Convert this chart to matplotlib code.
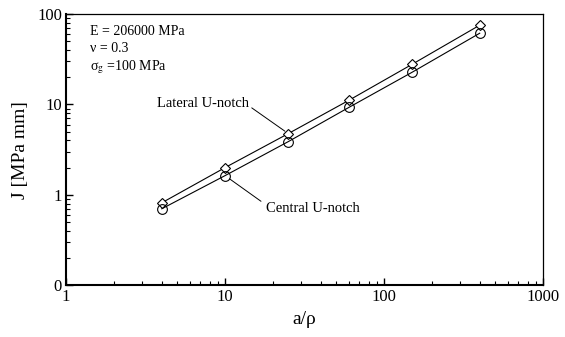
import matplotlib
matplotlib.use('Agg')
import matplotlib.pyplot as plt
from matplotlib.ticker import FixedLocator, FixedFormatter, LogLocator, NullFormatter

plt.rcParams['font.family'] = ['Liberation Serif', 'DejaVu Serif']
plt.rcParams['mathtext.fontset'] = 'stix'

# notch depth ratio and J-integral values
a_rho = [4, 10, 25, 60, 150, 400]
j_lateral = [0.815, 2.0, 4.76, 11.1, 27.8, 75.5]
j_central = [0.70, 1.63, 3.88, 9.26, 22.7, 61.5]

y_ticks = [0.1, 1, 10, 100]
y_labels = ['0', '1', '10', '100']
x_ticks = [1, 10, 100, 1000]
x_labels = ['1', '10', '100', '1000']

fig = plt.figure(figsize=(5.65, 3.37), dpi=100)
ax = fig.add_axes([0.117, 0.154, 0.844, 0.804])

ax.plot(a_rho, j_lateral, color='black', lw=0.8, marker='D', ms=5,
        mfc='white', mec='black', mew=0.8)
ax.plot(a_rho, j_central, color='black', lw=0.8, marker='o', ms=7,
        mfc='none', mec='black', mew=0.8)

ax.set_xscale('log')
ax.set_yscale('log')
ax.set_xlim(1, 1000)
ax.set_ylim(0.1, 100)

ax.xaxis.set_major_locator(FixedLocator(x_ticks))
ax.xaxis.set_major_formatter(FixedFormatter(x_labels))
ax.xaxis.set_minor_locator(LogLocator(base=10, subs=range(2, 10)))
ax.xaxis.set_minor_formatter(NullFormatter())
ax.yaxis.set_major_locator(FixedLocator(y_ticks))
ax.yaxis.set_major_formatter(FixedFormatter(y_labels))
ax.yaxis.set_minor_locator(LogLocator(base=10, subs=range(2, 10)))
ax.yaxis.set_minor_formatter(NullFormatter())

ax.tick_params(which='both', direction='in', top=False, right=False,
               labelsize=12, pad=3)
ax.tick_params(which='major', length=5, width=1.0)
ax.tick_params(which='minor', length=3, width=0.8)

for side in ['left', 'bottom']:
    ax.spines[side].set_linewidth(1.5)
for side in ['top', 'right']:
    ax.spines[side].set_linewidth(0.9)

ax.set_xlabel('a/ρ', fontsize=14, labelpad=4)
ax.set_ylabel('J [MPa mm]', fontsize=14, labelpad=6)

ax.text(0.05, 0.935, 'E = 206000 MPa', transform=ax.transAxes, fontsize=10, va='center')
ax.text(0.05, 0.872, 'ν = 0.3', transform=ax.transAxes, fontsize=10, va='center')
ax.text(0.05, 0.805, r'σ$_\mathrm{g}$ =100 MPa', transform=ax.transAxes, fontsize=10, va='center')

ax.annotate('Lateral U-notch', xy=(a_rho[2], j_lateral[2]), xytext=(3.73, 10.3),
            fontsize=10.5, ha='left', va='center',
            arrowprops=dict(arrowstyle='-', color='black', lw=0.7,
                            relpos=(1.0, 0.3), shrinkA=0, shrinkB=3))
ax.annotate('Central U-notch', xy=(a_rho[1], j_central[1]), xytext=(18.1, 0.70),
            fontsize=10.5, ha='left', va='center',
            arrowprops=dict(arrowstyle='-', color='black', lw=0.7,
                            relpos=(0.0, 0.8), shrinkA=2, shrinkB=4))

fig.savefig('out.png', dpi=100)
